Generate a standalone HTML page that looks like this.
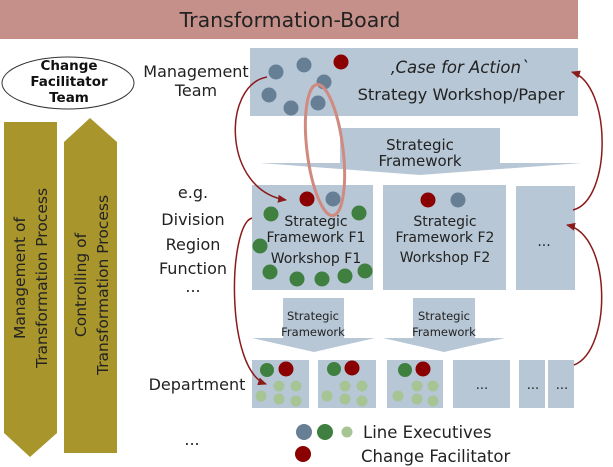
<!DOCTYPE html>
<html><head><meta charset="utf-8"><style>
html,body{margin:0;padding:0;background:#fff;}
svg{display:block;font-family:"DejaVu Sans","Liberation Sans",sans-serif;}
</style></head><body>
<svg width="613" height="467" viewBox="0 0 613 467" xmlns="http://www.w3.org/2000/svg">
<defs>
<marker id="ah" markerWidth="9" markerHeight="8" refX="8" refY="4" orient="auto" markerUnits="userSpaceOnUse"><path d="M0,0 L9,4 L0,8 Z" fill="#8b1a1a"/></marker>
</defs>
<rect x="0" y="0" width="578" height="39" fill="#c6908a"/>
<text x="290" y="27" font-size="20.5" text-anchor="middle" fill="#222">Transformation-Board</text>
<ellipse cx="68" cy="83" rx="66" ry="26" fill="#fff" stroke="#333" stroke-width="1"/>
<g font-size="13.5" font-weight="bold" text-anchor="middle" fill="#111">
<text x="69" y="70">Change</text><text x="69" y="86">Facilitator</text><text x="69" y="102">Team</text></g>
<polygon points="4,122 57,122 57,433 30,457 4,433" fill="#a8952b"/>
<polygon points="90,118 117,142 117,453 64,453 64,142" fill="#a8952b"/>
<g font-size="15.5" fill="#222" text-anchor="middle">
<text transform="translate(25,278) rotate(-90)">Management of</text>
<text transform="translate(47,278) rotate(-90)">Transformation Process</text>
<text transform="translate(86,285) rotate(-90)">Controlling of</text>
<text transform="translate(108,285) rotate(-90)">Transformation Process</text>
</g>
<g font-size="16" fill="#222" text-anchor="middle">
<text x="196" y="77">Management</text><text x="196" y="96">Team</text>
<text x="193" y="198">e.g.</text><text x="193" y="225">Division</text><text x="193" y="250">Region</text><text x="193" y="274">Function</text><text x="193" y="292">...</text>
<text x="197" y="390">Department</text><text x="192" y="445">...</text>
</g>
<rect x="250" y="48" width="328" height="68" fill="#b7c7d6"/>
<text x="460" y="73" font-size="16.5" font-style="italic" text-anchor="middle" fill="#222">‚Case for Action`</text>
<text x="461" y="100" font-size="16.3" text-anchor="middle" fill="#222">Strategy Workshop/Paper</text>
<g fill="#677f95"><circle cx="276" cy="72" r="7.5"/><circle cx="304" cy="65" r="7.5"/><circle cx="324" cy="82" r="7.5"/><circle cx="269" cy="95" r="7.5"/><circle cx="291" cy="108" r="7.5"/><circle cx="318" cy="103" r="7.5"/></g>
<circle cx="341" cy="62" r="7.5" fill="#8b0000"/>
<polygon points="340,128 500,128 500,163 582,163 420,175 260,163 340,163" fill="#b7c7d6"/>
<text x="420" y="150" font-size="15" text-anchor="middle" fill="#222">Strategic</text>
<text x="420" y="166" font-size="15" text-anchor="middle" fill="#222">Framework</text>
<rect x="252" y="185" width="121" height="105" fill="#b7c7d6"/>
<rect x="383" y="185" width="123" height="105" fill="#b7c7d6"/>
<rect x="516" y="186" width="59" height="104" fill="#b7c7d6"/>
<g font-size="14" text-anchor="middle" fill="#222">
<text x="316" y="226">Strategic</text><text x="316" y="242">Framework F1</text><text x="316" y="263">Workshop F1</text>
<text x="445" y="226">Strategic</text><text x="445" y="242">Framework F2</text><text x="445" y="262">Workshop F2</text>
<text x="544" y="246">...</text></g>
<circle cx="307" cy="199" r="7.5" fill="#8b0000"/><circle cx="333" cy="199" r="7.5" fill="#677f95"/>
<circle cx="428" cy="200" r="7.5" fill="#8b0000"/><circle cx="458" cy="200" r="7.5" fill="#677f95"/>
<g fill="#3f7f3f"><circle cx="271" cy="214" r="7.5"/><circle cx="359" cy="213" r="7.5"/><circle cx="260" cy="246" r="7.5"/><circle cx="270" cy="272" r="7.5"/><circle cx="297" cy="279" r="7.5"/><circle cx="322" cy="279" r="7.5"/><circle cx="345" cy="276" r="7.5"/><circle cx="365" cy="271" r="7.5"/></g>
<polygon points="283,298 344,298 344,338 375,338 314,352 252,338 283,338" fill="#b7c7d6"/>
<polygon points="413,298 475,298 475,338 505,338 444,352 383,338 413,338" fill="#b7c7d6"/>
<g font-size="11.5" text-anchor="middle" fill="#222">
<text x="313" y="320">Strategic</text><text x="313" y="336">Framework</text>
<text x="444" y="320">Strategic</text><text x="444" y="336">Framework</text></g>
<g fill="#b7c7d6"><rect x="252" y="360" width="57" height="48"/><rect x="318" y="360" width="58" height="48"/><rect x="387" y="360" width="56" height="48"/><rect x="453" y="360" width="57" height="48"/><rect x="519" y="360" width="26" height="48"/><rect x="548" y="360" width="26" height="48"/></g>
<g font-size="13" text-anchor="middle" fill="#222"><text x="482" y="389">...</text><text x="533" y="389">...</text><text x="562" y="389">...</text></g>
<g fill="#3f7f3f"><circle cx="267" cy="370" r="7"/><circle cx="334" cy="369" r="7"/><circle cx="405" cy="370" r="7"/></g>
<g fill="#8b0000"><circle cx="286" cy="369" r="7.5"/><circle cx="352" cy="368" r="7.5"/><circle cx="423" cy="369" r="7.5"/></g>
<g fill="#a7c495">
<circle cx="279" cy="386" r="5.5"/><circle cx="296" cy="386" r="5.5"/><circle cx="261" cy="396" r="5.5"/><circle cx="279" cy="399" r="5.5"/><circle cx="296" cy="401" r="5.5"/>
<circle cx="345" cy="386" r="5.5"/><circle cx="362" cy="386" r="5.5"/><circle cx="327" cy="396" r="5.5"/><circle cx="345" cy="399" r="5.5"/><circle cx="362" cy="401" r="5.5"/>
<circle cx="417" cy="386" r="5.5"/><circle cx="433" cy="386" r="5.5"/><circle cx="398" cy="396" r="5.5"/><circle cx="417" cy="399" r="5.5"/><circle cx="433" cy="401" r="5.5"/>
<circle cx="347" cy="432" r="5.5"/></g>
<circle cx="304" cy="432" r="8" fill="#677f95"/><circle cx="325" cy="432" r="8" fill="#3f7f3f"/>
<circle cx="303" cy="454" r="8" fill="#8b0000"/>
<text x="363" y="438" font-size="16.5" fill="#222">Line Executives</text>
<text x="361" y="462" font-size="16.5" fill="#222">Change Facilitator</text>
<ellipse cx="325" cy="150" rx="18" ry="66" transform="rotate(-7 325 150)" fill="none" stroke="#d08a80" stroke-width="3"/>
<g fill="none" stroke="#8b1a1a" stroke-width="1.5">
<path d="M267,77 C222,85 222,190 286,200" marker-end="url(#ah)"/>
<path d="M252,218 C228,225 225,370 266,384" marker-end="url(#ah)"/>
<path d="M573,210 C612,200 612,85 572,72" marker-end="url(#ah)"/>
<path d="M574,365 C612,350 612,235 567,225" marker-end="url(#ah)"/>
</g>
</svg>
</body></html>
